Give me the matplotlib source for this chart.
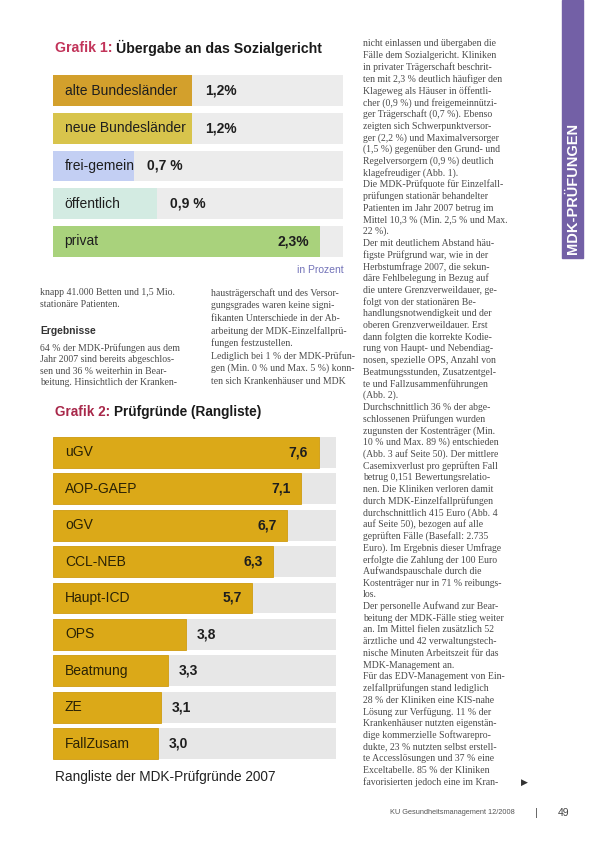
import matplotlib
matplotlib.use("Agg")
import matplotlib.pyplot as plt
from matplotlib.patches import Rectangle

# --- data -------------------------------------------------------------
g1_labels = ["alte Bundesländer", "neue Bundesländer", "frei-gemein", "öffentlich", "privat"]
g1_values = [1.2, 1.2, 0.7, 0.9, 2.3]
g1_texts = ["1,2%", "1,2%", "0,7 %", "0,9 %", "2,3%"]
g1_colors = ["#d3a02c", "#d8c44c", "#c3cff3", "#d3ebe2", "#a9d27c"]

g2_labels = ["uGV", "AOP-GAEP", "oGV", "CCL-NEB", "Haupt-ICD", "OPS", "Beatmung", "ZE", "FallZusam"]
g2_values = [7.6, 7.1, 6.7, 6.3, 5.7, 3.8, 3.3, 3.1, 3.0]
g2_texts = ["7,6", "7,1", "6,7", "6,3", "5,7", "3,8", "3,3", "3,1", "3,0"]

col_a = ["knapp 41.000 Betten und 1,5 Mio.",
         "stationäre Patienten."]
col_a2 = ["64 % der MDK-Prüfungen aus dem",
          "Jahr 2007 sind bereits abgeschlos-",
          "sen und 36 % weiterhin in Bear-",
          "beitung. Hinsichtlich der Kranken-"]
col_b = ["hausträgerschaft und des Versor-",
         "gungsgrades waren keine signi-",
         "fikanten Unterschiede in der Ab-",
         "arbeitung der MDK-Einzelfallprü-",
         "fungen festzustellen.",
         "Lediglich bei 1 % der MDK-Prüfun-",
         "gen (Min. 0 % und Max. 5 %) konn-",
         "ten sich Krankenhäuser und MDK"]
col_r = ["nicht einlassen und übergaben die",
         "Fälle dem Sozialgericht. Kliniken",
         "in privater Trägerschaft beschrit-",
         "ten mit 2,3 % deutlich häufiger den",
         "Klageweg als Häuser in öffentli-",
         "cher (0,9 %) und freigemeinnützi-",
         "ger Trägerschaft (0,7 %). Ebenso",
         "zeigten sich Schwerpunktversor-",
         "ger (2,2 %) und Maximalversorger",
         "(1,5 %) gegenüber den Grund- und",
         "Regelversorgern (0,9 %) deutlich",
         "klagefreudiger (Abb. 1).",
         "Die MDK-Prüfquote für Einzelfall-",
         "prüfungen stationär behandelter",
         "Patienten im Jahr 2007 betrug im",
         "Mittel 10,3 % (Min. 2,5 % und Max.",
         "22 %).",
         "Der mit deutlichem Abstand häu-",
         "figste Prüfgrund war, wie in der",
         "Herbstumfrage 2007, die sekun-",
         "däre Fehlbelegung in Bezug auf",
         "die untere Grenzverweildauer, ge-",
         "folgt von der stationären Be-",
         "handlungsnotwendigkeit und der",
         "oberen Grenzverweildauer. Erst",
         "dann folgten die korrekte Kodie-",
         "rung von Haupt- und Nebendiag-",
         "nosen, spezielle OPS, Anzahl von",
         "Beatmungsstunden, Zusatzentgel-",
         "te und Fallzusammenführungen",
         "(Abb. 2).",
         "Durchschnittlich 36 % der abge-",
         "schlossenen Prüfungen wurden",
         "zugunsten der Kostenträger (Min.",
         "10 % und Max. 89 %) entschieden",
         "(Abb. 3 auf Seite 50). Der mittlere",
         "Casemixverlust pro geprüften Fall",
         "betrug 0,151 Bewertungsrelatio-",
         "nen. Die Kliniken verloren damit",
         "durch MDK-Einzelfallprüfungen",
         "durchschnittlich 415 Euro (Abb. 4",
         "auf Seite 50), bezogen auf alle",
         "geprüften Fälle (Basefall: 2.735",
         "Euro). Im Ergebnis dieser Umfrage",
         "erfolgte die Zahlung der 100 Euro",
         "Aufwandspauschale durch die",
         "Kostenträger nur in 71 % reibungs-",
         "los.",
         "Der personelle Aufwand zur Bear-",
         "beitung der MDK-Fälle stieg weiter",
         "an. Im Mittel fielen zusätzlich 52",
         "ärztliche und 42 verwaltungstech-",
         "nische Minuten Arbeitszeit für das",
         "MDK-Management an.",
         "Für das EDV-Management von Ein-",
         "zelfallprüfungen stand lediglich",
         "28 % der Kliniken eine KIS-nahe",
         "Lösung zur Verfügung. 11 % der",
         "Krankenhäuser nutzten eigenstän-",
         "dige kommerzielle Softwarepro-",
         "dukte, 23 % nutzten selbst erstell-",
         "te Accesslösungen und 37 % eine",
         "Exceltabelle. 85 % der Kliniken",
         "favorisierten jedoch eine im Kran-"]

# --- layout helpers ---------------------------------------------------
W, H = 590, 841
fig = plt.figure(figsize=(W / 100, H / 100), dpi=100)
fig.patch.set_facecolor("white")
plt.rcParams['font.family'] = ['Liberation Sans', 'DejaVu Sans']


def rect(x0, y0, x1, y1):
    return [x0 / W, 1 - y1 / H, (x1 - x0) / W, (y1 - y0) / H]


def ftext(x, y, s, **kw):
    return fig.text(x / W, 1 - y / H, s, **kw)


def title(x, y, head, rest, head_color, size):
    r = fig.canvas.get_renderer()
    t = ftext(x, y, head, fontsize=size, fontweight="bold", color=head_color, va="center")
    bb = t.get_window_extent(renderer=r)
    ftext(bb.x1 + 4, y, rest, fontsize=size, fontweight="bold", color="#1a1a1a", va="center")


serif = ['Liberation Serif', 'DejaVu Serif']
body_kw = dict(fontsize=7.0, family=serif, color="#4a4a4a", va="center")

# --- Grafik 1 -----------------------------------------------------------
title(55, 48, "Grafik 1:", "Übergabe an das Sozialgericht", "#c2345a", 10.2)

ax1 = fig.add_axes(rect(53, 72, 343, 260))
xmax1 = 2.5
y1 = range(len(g1_values))
ax1.barh(y1, [xmax1] * len(g1_values), height=0.82, color="#ececec", zorder=1)
ax1.barh(y1, g1_values, height=0.82, color=g1_colors, zorder=2, linewidth=0)
for i, (lab, v, txt) in enumerate(zip(g1_labels, g1_values, g1_texts)):
    ax1.text(0.10, i, lab, fontsize=10, va="center", ha="left", color="#1e1e1e", zorder=3)
    if v == max(g1_values):
        ax1.text(v - 0.09, i, txt, fontsize=10, fontweight="bold", va="center", ha="right",
                 color="#1e1e1e", zorder=3)
    else:
        ax1.text(v + 0.11, i, txt, fontsize=10, fontweight="bold", va="center", ha="left",
                 color="#1e1e1e", zorder=3)
ax1.set_xlim(0, xmax1)
ax1.set_ylim(len(g1_values) - 0.5, -0.5)
ax1.axis("off")
ftext(344, 270, "in Prozent", fontsize=7.5, color="#7272b8", ha="right", va="center")

# --- text below Grafik 1 -------------------------------------------------
for i, line in enumerate(col_a):
    ftext(40, 293 + i * 11.6, line, **body_kw)
ftext(40, 331, "Ergebnisse", fontsize=7.4, fontweight="bold", color="#333333", va="center")
for i, line in enumerate(col_a2):
    ftext(40, 348 + i * 11.6, line, **body_kw)
for i, line in enumerate(col_b):
    ftext(211, 293 + i * 12.6, line, **body_kw)

# --- Grafik 2 -----------------------------------------------------------
title(55, 412, "Grafik 2:", "Prüfgründe (Rangliste)", "#a8284a", 9.8)

ax2 = fig.add_axes(rect(53, 434, 336, 762))
xmax2 = 8.1
y2 = range(len(g2_values))
ax2.barh(y2, [xmax2] * len(g2_values), height=0.85, color="#e7e7e7", zorder=1)
ax2.barh(y2, g2_values, height=0.85, color="#dba918", edgecolor="#d09c10",
         linewidth=0.6, zorder=2)
for i, (lab, v, txt) in enumerate(zip(g2_labels, g2_values, g2_texts)):
    ax2.text(0.34, i, lab, fontsize=10, va="center", ha="left", color="#2a2205", zorder=3)
    if v > 0.6 * max(g2_values):
        ax2.text(v - 0.3, i, txt, fontsize=10, fontweight="bold", va="center", ha="right",
                 color="#1e1e1e", zorder=3)
    else:
        ax2.text(v + 0.3, i, txt, fontsize=10, fontweight="bold", va="center", ha="left",
                 color="#1e1e1e", zorder=3)
ax2.set_xlim(0, xmax2)
ax2.set_ylim(len(g2_values) - 0.5, -0.5)
ax2.axis("off")
ftext(55, 777, "Rangliste der MDK-Prüfgründe 2007", fontsize=9.8, color="#222222", va="center")

# --- right column ----------------------------------------------------------
for i, line in enumerate(col_r):
    ftext(363, 44 + i * 11.72, line, **body_kw)
ftext(521, 44 + (len(col_r) - 1) * 11.72, "▶", fontsize=6.5, color="#333333",
      va="center", family=['DejaVu Sans'])

# side tab
fig.patches.append(Rectangle((562 / W, 1 - 258 / H), 21 / W, 258 / H,
                             transform=fig.transFigure, color="#7360a6", zorder=0))
ftext(572.5, 188, "MDK-PRÜFUNGEN", fontsize=10.5, fontweight="bold", color="white",
      rotation=90, ha="center", va="center")

# footer
ftext(390, 813, "KU Gesundheitsmanagement 12/2008", fontsize=5.3, color="#555555", va="center")
ftext(536, 813, "|", fontsize=8, color="#555555", va="center", ha="center")
ftext(558, 813, "49", fontsize=7.5, color="#444444", va="center")

fig.savefig("out.png", dpi=100)
